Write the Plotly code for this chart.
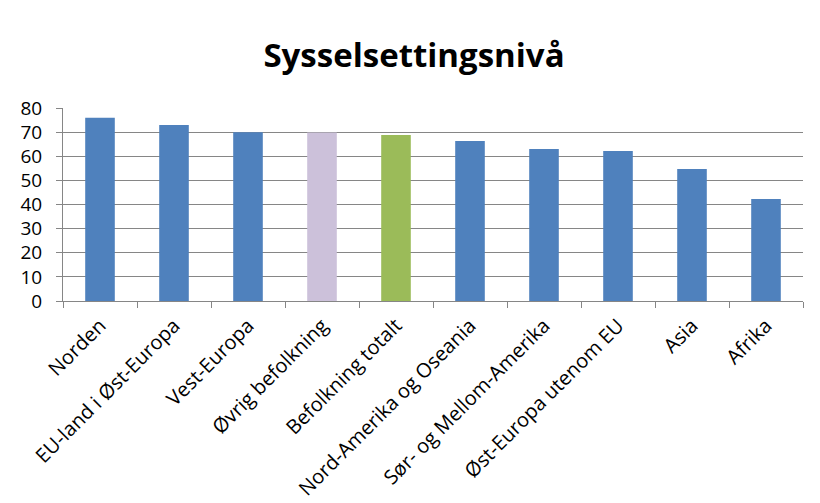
import plotly.graph_objects as go

categories = ["Norden", "EU-land i Øst-Europa", "Vest-Europa", "Øvrig befolkning",
              "Befolkning totalt", "Nord-Amerika og Oseania", "Sør- og Mellom-Amerika",
              "Øst-Europa utenom EU", "Asia", "Afrika"]
values = [76.0, 73.0, 70.0, 69.8, 68.8, 66.3, 63.0, 62.2, 54.7, 42.3]
colors = ["#4F81BD", "#4F81BD", "#4F81BD", "#CCC1DA", "#9BBB59",
          "#4F81BD", "#4F81BD", "#4F81BD", "#4F81BD", "#4F81BD"]
y_ticks = [0, 10, 20, 30, 40, 50, 60, 70, 80]

font = "Open Sans, Lato, sans-serif"

fig = go.Figure(go.Bar(x=categories, y=values, marker=dict(color=colors, line=dict(width=0)),
                       width=0.4))

# page body has an 8px default margin, so the figure is 8px smaller than the window
fig.update_layout(
    width=812, height=495,
    margin=dict(l=55, r=17, t=100, b=202, autoexpand=False),
    paper_bgcolor="white", plot_bgcolor="white",
    showlegend=False,
    title=dict(text="<b>Sysselsettingsnivå</b>", x=0.5, xanchor="center",
               y=0.905, yanchor="middle",
               font=dict(family=font, size=33, color="black")),
    font=dict(family=font, color="black"),
)
fig.update_xaxes(
    tickangle=-45, tickfont=dict(size=20, family=font, color="black"),
    showline=True, linecolor="#868686", linewidth=1, automargin=False,
    ticks="outside", ticklen=6, tickcolor="#868686", tickson="boundaries",
    showgrid=False, range=[-0.5, 9.5], ticklabelstandoff=4,
)
fig.update_yaxes(
    range=[0, 80], tickvals=y_ticks, tickfont=dict(size=19, family=font, color="black"),
    showline=True, linecolor="#868686", linewidth=1, automargin=False,
    ticks="outside", ticklen=6, tickcolor="#868686",
    showgrid=True, gridcolor="#868686", gridwidth=1,
    zeroline=False, ticklabelstandoff=10,
)

fig.write_html("out.html")
